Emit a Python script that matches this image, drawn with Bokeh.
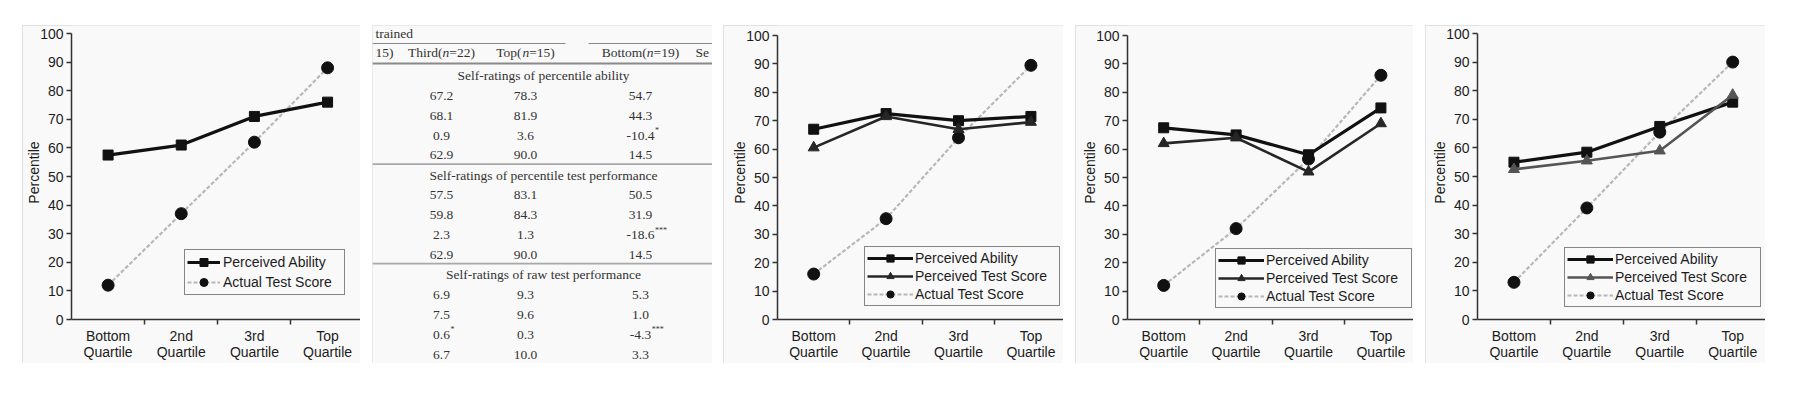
from bokeh.plotting import figure
from bokeh.models import Range1d, FixedTicker, Legend, LegendItem
from bokeh.layouts import row
from bokeh.embed import file_html
from bokeh.resources import INLINE
from bokeh.core.properties import value

# ---------------- data ----------------
quartiles = ["Bottom\nQuartile", "2nd\nQuartile", "3rd\nQuartile", "Top\nQuartile"]
y_ticks = list(range(0, 101, 10))
y_label = "Percentile"
series_names = ["Perceived Ability", "Perceived Test Score", "Actual Test Score"]

p1_ability = [57.5, 61.0, 71.0, 76.0]
p1_actual = [12.0, 37.0, 62.0, 88.0]

p3_ability = [67.0, 72.5, 70.0, 71.5]
p3_test = [60.5, 71.5, 67.0, 69.5]
p3_actual = [16.0, 35.5, 64.0, 89.5]

p4_ability = [67.5, 65.0, 58.0, 74.5]
p4_test = [62.0, 64.0, 52.0, 69.0]
p4_actual = [12.0, 32.0, 56.5, 86.0]

p5_ability = [55.0, 58.5, 67.5, 76.0]
p5_test = [52.5, 55.5, 59.0, 78.5]
p5_actual = [13.0, 39.0, 65.5, 90.0]

table_caption = "trained"
table_header_left = "15)"
table_header = ["Third(n=22)", "Top(n=15)", "Bottom(n=19)"]
table_header_right = "Se"
section_titles = ["Self-ratings of percentile ability",
                  "Self-ratings of percentile test performance",
                  "Self-ratings of raw test performance"]
third_col = [["67.2", "68.1", "0.9", "62.9"],
             ["57.5", "59.8", "2.3", "62.9"],
             ["6.9", "7.5", "0.6*", "6.7"]]
top_col = [["78.3", "81.9", "3.6", "90.0"],
           ["83.1", "84.3", "1.3", "90.0"],
           ["9.3", "9.6", "0.3", "10.0"]]
bottom_col = [["54.7", "44.3", "-10.4*", "14.5"],
              ["50.5", "31.9", "-18.6***", "14.5"],
              ["5.3", "1.0", "-4.3***", "3.3"]]

# ---------------- style ----------------
BG = "#f9f9f9"
PANEL_STYLE = {"outline": "2px solid #d9d9d9", "outline-offset": "-2px"}
SANS = "Liberation Sans"
SERIF = "Liberation Serif"
INK = "#1c1c1c"
H = 338
TOP = 25
FB = 44   # bottom border (x axis area), same for every chart


def make_chart(width, ability, test, actual, fl, ft, leg_loc, leg_w, leg_h, left_gap,
               test_color="#262626"):
    # the frame reaches the top of the panel; the 100 mark sits ft px below it
    frame_h = H - FB
    y_top = 100.0 * frame_h / (frame_h - ft)
    p = figure(frame_width=width - fl, frame_height=frame_h,
               x_range=Range1d(0, 3.95), y_range=Range1d(0, y_top), title=None,
               output_backend="svg", toolbar_location=None,
               min_border_left=fl, min_border_right=0, min_border_top=0, min_border_bottom=FB,
               background_fill_color=BG, border_fill_color=BG, outline_line_color=None,
               styles=PANEL_STYLE, margin=(TOP, 0, 0, left_gap))
    p.grid.visible = False
    xs = [i + 0.5 for i in range(len(quartiles))]

    xa = p.xaxis[0]
    xa.ticker = FixedTicker(ticks=xs, minor_ticks=list(range(1, len(quartiles))))
    xa.major_label_overrides = {x: q for x, q in zip(xs, quartiles)}
    xa.major_tick_line_color = None
    xa.major_tick_out = 0
    xa.major_tick_in = 0
    xa.minor_tick_out = 5
    xa.minor_tick_in = 0
    xa.minor_tick_line_color = "#333"
    xa.minor_tick_line_width = 1.5
    xa.major_label_standoff = 3
    xa.major_label_text_font = SANS
    xa.major_label_text_font_size = "14px"
    xa.major_label_text_color = INK
    xa.major_label_text_line_height = 1.02

    ya = p.yaxis[0]
    ya.ticker = FixedTicker(ticks=y_ticks, minor_ticks=[])
    ya.bounds = (y_ticks[0], y_ticks[-1])
    ya.major_tick_out = 5
    ya.major_tick_in = 0
    ya.major_tick_line_color = "#333"
    ya.major_tick_line_width = 1.3
    ya.minor_tick_line_color = None
    ya.major_label_standoff = 3
    ya.major_label_text_font = SANS
    ya.major_label_text_font_size = "14px"
    ya.major_label_text_color = INK
    ya.axis_label = y_label
    ya.axis_label_standoff = -5
    ya.axis_label_text_font = SANS
    ya.axis_label_text_font_size = "14px"
    ya.axis_label_text_font_style = "normal"
    ya.axis_label_text_color = INK

    for ax in (xa, ya):
        ax.axis_line_color = "#333"
        ax.axis_line_width = 1.5

    items = []
    a_line = p.line(xs, actual, line_color="#b8b8b8", line_width=2.2, line_dash="4 2")
    a_pts = p.scatter(xs, actual, marker="circle", size=12, fill_color="#111", line_color="#111")
    pa_line = p.line(xs, ability, line_color="#111", line_width=3.2)
    pa_pts = p.scatter(xs, ability, marker="square", size=10, fill_color="#111", line_color="#111")
    items.append(LegendItem(label=series_names[0], renderers=[pa_line, pa_pts]))
    if test is not None:
        t_line = p.line(xs, test, line_color=test_color, line_width=2.6)
        t_pts = p.scatter(xs, test, marker="triangle", size=11, fill_color=test_color,
                          line_color=test_color)
        items.append(LegendItem(label=series_names[1], renderers=[t_line, t_pts]))
    items.append(LegendItem(label=series_names[2], renderers=[a_line, a_pts]))

    n = len(items)
    pad = 2
    item_h = (leg_h - 2 * pad) / n
    gw = 33 if n == 2 else 46
    stand = 3 if n == 2 else 2
    lw = leg_w - 2 * pad - gw - stand
    leg = Legend(items=items, location=leg_loc, padding=pad, spacing=0, margin=0,
                 label_height=int(round(item_h)), glyph_height=int(round(item_h)),
                 glyph_width=gw, label_standoff=stand, label_width=int(lw),
                 border_line_color="#111", border_line_width=1.6,
                 background_fill_color=BG, background_fill_alpha=1.0,
                 label_text_font=SANS, label_text_font_size="14px", label_text_color=INK)
    p.add_layout(leg)
    return p


# ---------------- table panel ----------------
TW = {"0": .5, "1": .5, "2": .5, "3": .5, "4": .5, "5": .5, "6": .5, "7": .5, "8": .5, "9": .5,
      ".": .25, "-": .333, "(": .333, ")": .333, "=": .564, "T": .611, "h": .5, "i": .278,
      "r": .333, "d": .5, "o": .5, "p": .5, "B": .667, "t": .278, "m": .778, "n": .5}
FS = 13.5


def tw(s, fs=FS):
    return sum(TW.get(c, .5) for c in s) * fs


def make_table(width, left_gap):
    p = figure(frame_width=width, frame_height=H, x_range=Range1d(0, width),
               y_range=Range1d(0, H), title=None,
               output_backend="svg", toolbar_location=None, x_axis_type=None, y_axis_type=None,
               min_border=0, background_fill_color=BG, border_fill_color=BG,
               outline_line_color=None, styles=PANEL_STYLE, margin=(TOP, 0, 0, left_gap))
    p.grid.visible = False

    def Y(v):  # distance from the top of the panel
        return H - v

    col_x = [69, 153, 268]
    common = dict(text_font=value(SERIF), text_font_size=value("13.5px"), text_color="#333",
                  text_baseline="middle")

    p.text(x=[3], y=[Y(8)], text=[table_caption], text_align="left", **common)
    p.segment(x0=[0, 216], y0=[Y(18), Y(18)], x1=[193, width], y1=[Y(18), Y(18)],
              line_color="#888", line_width=1)
    p.text(x=[3], y=[Y(27)], text=[table_header_left], text_align="left", **common)
    p.text(x=[323], y=[Y(27)], text=[table_header_right], text_align="left", **common)
    for cx, h in zip(col_x, table_header):
        pre, post = h.split("(n")
        pre = pre + "("
        total = tw(pre) + tw("n") + tw(post)
        x0 = cx - total / 2
        p.text(x=[x0], y=[Y(27)], text=[pre], text_align="left", **common)
        p.text(x=[x0 + tw(pre)], y=[Y(27)], text=["n"], text_align="left",
               text_font_style="italic", **common)
        p.text(x=[x0 + tw(pre) + tw("n")], y=[Y(27)], text=[post], text_align="left", **common)
    p.segment(x0=[0], y0=[Y(38)], x1=[width], y1=[Y(38)], line_color="#8a8a8a", line_width=2)

    block = 99.6
    step = 19.9
    for k, title in enumerate(section_titles):
        ty = 50 + k * block
        if k > 0:
            p.segment(x0=[0], y0=[Y(ty - 11)], x1=[width], y1=[Y(ty - 11)],
                      line_color="#a8a8a8", line_width=1.8)
        p.text(x=[171], y=[Y(ty)], text=[title], text_align="center", **common)
        for cx, colvals in zip(col_x, (third_col, top_col, bottom_col)):
            vals = colvals[k]
            nums = [v.rstrip("*") for v in vals]
            ys = [Y(ty + 20.2 + i * step) for i in range(len(vals))]
            p.text(x=[cx] * len(nums), y=ys, text=nums, text_align="center", **common)
            for v, num, yy in zip(vals, nums, ys):
                stars = v[len(num):]
                if stars:
                    p.text(x=[cx + tw(num) / 2 + 0.5], y=[yy + 5], text=[stars],
                           text_align="left", text_font=value(SERIF),
                           text_font_size=value("8px"), text_color="#333",
                           text_baseline="middle")
    return p


p1 = make_chart(338, p1_ability, None, p1_actual, 49, 8, (113, 24), 159, 44, 22)
p2 = make_table(340, 12)
p3 = make_chart(340, p3_ability, p3_test, p3_actual, 54, 10, (87, 13), 194, 58, 11)
p4 = make_chart(338, p4_ability, p4_test, p4_actual, 52, 10, (88, 11), 195, 58, 12)
p5 = make_chart(340, p5_ability, p5_test, p5_actual, 52, 8, (87, 12), 195, 58, 12,
                test_color="#555555")

layout = row(p1, p2, p3, p4, p5)

open("out.html", "w").write(file_html(layout, INLINE))
